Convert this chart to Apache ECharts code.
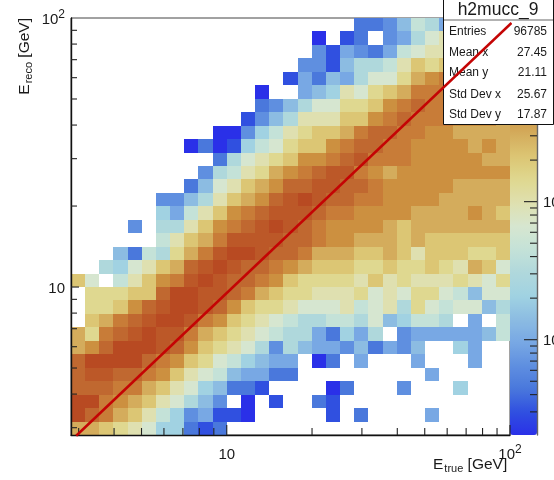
<!DOCTYPE html>
<html>
<head>
<meta charset="utf-8">
<style>html,body{margin:0;padding:0;background:#fff}#c{width:554px;height:480px}</style>
<script src="https://cdn.jsdelivr.net/npm/echarts@6/dist/echarts.min.js"></script>
</head>
<body>
<div id="c"></div>
<script>
// Histogram binning: 31 log-spaced bins per axis
var binLogStart = 0.45;
var binLogWidth = 0.05;

// Estimated bin content for each palette level (level 0 = empty bin)
var levelCounts = [0, 2.04, 3, 4.4, 6.5, 9.6, 14, 21, 30, 45, 66, 97, 143, 210, 310, 455, 670, 985, 1450, 2140];
var paletteColors = ['#2a30e8','#3050e0','#4a78dc','#5f8fe0','#78a8e4','#8cbce2','#a0d2e2','#b0d8dc','#c4e2d8','#d6e6d0',
  '#dfe0b0','#dfd890','#dcc674','#d4ac5c','#cc9040','#c87c38','#c06830','#bc5828','#b84a22'];

// Palette level of every cell, top row first, left column first
var row00 = [0,0,0,0,0,0,0,0,0,0,0,0,0,0,0,0,0,0,0,0,3,3,4,6,9,8,5,6,9,9,10];
var row01 = [0,0,0,0,0,0,0,0,0,0,0,0,0,0,0,0,0,1,0,2,3,0,4,5,8,10,11,10,9,9,10];
var row02 = [0,0,0,0,0,0,0,0,0,0,0,0,0,0,0,0,0,4,2,5,4,3,5,9,10,11,11,12,12,11,11];
var row03 = [0,0,0,0,0,0,0,0,0,0,0,0,0,0,0,0,4,4,2,6,8,8,9,11,13,12,13,13,13,13,13];
var row04 = [0,0,0,0,0,0,0,0,0,0,0,0,0,0,0,2,5,3,6,5,8,10,10,12,14,15,16,15,14,14,14];
var row05 = [0,0,0,0,0,0,0,0,0,0,0,0,0,1,0,0,5,6,7,11,10,12,13,14,16,16,16,15,15,14,14];
var row06 = [0,0,0,0,0,0,0,0,0,0,0,0,0,3,4,6,8,10,10,12,12,13,15,16,17,16,16,15,15,14,14];
var row07 = [0,0,0,0,0,0,0,0,0,0,0,0,2,4,6,8,11,11,11,13,13,15,16,17,16,16,16,15,15,15,14];
var row08 = [0,0,0,0,0,0,0,0,0,0,1,1,4,7,9,11,12,13,13,14,16,17,17,16,16,15,15,14,14,14,14];
var row09 = [0,0,0,0,0,0,0,0,1,3,1,2,7,9,10,12,13,13,15,16,17,17,16,16,15,15,15,15,14,15,14];
var row10 = [0,0,0,0,0,0,0,0,0,0,3,8,10,11,12,13,15,15,16,17,18,16,16,16,15,15,15,15,15,14,14];
var row11 = [0,0,0,0,0,0,0,0,0,4,8,9,11,12,14,15,16,17,18,18,16,15,14,15,15,15,15,15,15,15,15];
var row12 = [0,0,0,0,0,0,0,0,3,6,10,11,13,14,15,17,17,18,18,17,17,16,15,15,15,15,15,14,14,14,14];
var row13 = [0,0,0,0,0,0,4,4,6,8,11,13,14,15,17,18,19,18,17,17,16,16,15,15,15,15,14,14,14,14,14];
var row14 = [0,0,0,0,0,0,7,5,9,11,13,15,16,17,18,18,18,17,16,16,15,15,15,15,14,14,14,14,15,14,13];
var row15 = [0,0,0,0,4,0,8,8,11,13,15,16,17,18,19,18,17,16,15,15,15,15,14,13,14,14,14,14,14,14,14];
var row16 = [0,0,0,0,0,0,9,11,13,14,16,18,18,18,18,17,17,16,15,15,14,14,14,13,14,13,13,13,13,13,13];
var row17 = [0,0,0,6,3,9,8,12,14,16,18,19,19,18,17,17,16,14,14,14,13,13,14,13,11,13,13,13,12,12,13];
var row18 = [0,0,8,7,10,11,13,14,17,18,19,18,17,17,16,15,14,13,13,13,12,12,13,12,12,13,12,11,14,13,10];
var row19 = [13,10,0,9,11,13,15,16,18,19,18,17,17,16,15,13,12,12,12,12,11,13,11,12,11,11,11,12,11,10,12];
var row20 = [0,12,12,12,13,13,17,19,19,18,18,17,16,14,13,12,12,11,11,11,12,10,11,10,12,12,10,9,6,10,10];
var row21 = [0,12,12,13,15,17,18,19,19,18,17,15,13,12,12,11,10,10,10,11,9,10,11,8,12,10,9,10,10,6,8];
var row22 = [0,13,14,16,17,18,19,19,18,16,15,13,12,11,10,9,8,8,9,9,8,10,6,7,9,9,8,0,5,0,9];
var row23 = [14,12,16,17,18,19,18,18,16,14,13,12,11,10,9,8,8,5,3,7,5,8,0,4,5,5,5,5,5,6,9];
var row24 = [14,15,17,19,19,19,18,17,15,13,12,11,10,8,4,8,6,5,5,4,6,3,5,4,6,0,0,7,5,0,0];
var row25 = [17,19,19,19,19,17,16,15,13,12,10,9,7,6,5,5,0,1,3,0,5,0,0,0,5,0,0,0,5,0,0];
var row26 = [17,18,18,17,17,16,15,13,11,10,9,6,5,5,3,3,0,0,0,0,0,0,0,0,0,5,0,0,0,0,0];
var row27 = [17,17,17,16,16,14,13,11,10,7,6,3,3,2,0,0,0,0,1,3,0,0,0,4,0,0,0,7,0,0,0];
var row28 = [19,19,16,15,14,13,11,10,8,6,4,0,1,0,2,0,0,3,2,0,0,0,0,0,0,0,0,0,0,0,0];
var row29 = [19,17,16,14,13,11,9,7,4,5,2,2,1,0,0,0,0,0,2,0,3,0,0,0,0,5,0,0,0,0,0];
var row30 = [14,14,13,12,11,10,7,7,3,2,3,0,0,0,0,0,0,0,0,0,0,0,0,0,0,0,0,0,0,0,0];
var levelRows = [row00,row01,row02,row03,row04,row05,row06,row07,row08,row09,row10,row11,row12,row13,row14,row15,
  row16,row17,row18,row19,row20,row21,row22,row23,row24,row25,row26,row27,row28,row29,row30];

// Axes
var axisMin = Math.pow(10, binLogStart);
var axisMax = 100;
var xTicks = [3,4,5,6,7,8,9,10,20,30,40,50,60,70,80,90,100];
var yTicks = [3,4,5,6,7,8,9,10,20,30,40,50,60,70,80,90];
var zTicks = [3,4,5,6,7,8,9,10,20,30,40,50,60,70,80,90,100,200,300,400,500,600,700,800,900,1000,2000];
var majorTicks = [10,100,1000];
var zMin = levelCounts[1];
var zMax = levelCounts[levelCounts.length-1];

// Red reference line end points
var diagX = [2.94, 101.2];
var diagY = [2.80, 95.8];

// Statistics box
var statTitle = 'h2mucc_9';
var statNames = ['Entries','Mean x','Mean y','Std Dev x','Std Dev y'];
var statValues = ['96785','27.45','21.11','25.67','17.87'];

function edge(i){ return Math.pow(10, binLogStart + binLogWidth*i); }
var cells = [];
levelRows.forEach(function(row, r){
  row.forEach(function(level, c){
    if(level>0){
      var j = levelRows.length-1-r;
      cells.push([edge(c), edge(c+1), edge(j), edge(j+1), Math.log10(levelCounts[level])]);
    }
  });
});

var FONT = '"Liberation Sans", Arial, sans-serif';
var TC = '#1a1a1a';
function powLabel(v){
  if(Math.abs(v-10)<1e-6) return '{m|10}';
  if(Math.abs(v-100)<1e-6) return '{m|10}{s|2}';
  if(Math.abs(v-1000)<1e-6) return '{m|10}{s|3}';
  return '';
}
var labelRich = {
  m:{fontFamily:FONT,fontSize:15,color:TC,lineHeight:18,verticalAlign:'bottom'},
  s:{fontFamily:FONT,fontSize:12,color:TC,lineHeight:18,verticalAlign:'top',padding:[0,0,6,0]}
};
var nameRich = {
  a:{fontFamily:FONT,fontSize:15.5,fill:TC,color:TC,lineHeight:20},
  b:{fontFamily:FONT,fontSize:11,fill:TC,color:TC,lineHeight:20,padding:[7,0,0,1]}
};

function tickSeries(values, axisIdx, kind){
  return {
    type:'custom', xAxisIndex:axisIdx, yAxisIndex:axisIdx, z:6, silent:true, clip:false,
    data: values.map(function(v){return [v];}),
    encode:{x:kind==='x'?0:-1, y:kind==='x'?-1:0},
    renderItem:function(p, api){
      var v = api.value(0), major = majorTicks.indexOf(v)>=0, a, b;
      if(kind==='x'){
        a = api.coord([v, axisMin]);
        b = [a[0], a[1]-(major?10:7)];
      } else if(kind==='y'){
        a = api.coord([axisMin, v]);
        b = [a[0]+(major?8:6), a[1]];
      } else {
        a = api.coord([1, v]);
        b = [a[0]-(major?13:7), a[1]];
      }
      return {type:'line', shape:{x1:a[0],y1:a[1],x2:b[0],y2:b[1]}, style:{stroke:'#222',lineWidth:1.1}};
    }
  };
}

var graphicEls = [
  {type:'rect', z:100, shape:{x:443.5,y:-2,width:110,height:126.5}, style:{fill:'#fff',stroke:'#111',lineWidth:1}},
  {type:'line', z:100, shape:{x1:444,y1:20,x2:553,y2:20}, style:{stroke:'#666',lineWidth:1}},
  {type:'text', z:101, x:498,y:10, style:{text:statTitle,font:'17.5px '+FONT,fill:TC,textAlign:'center',textVerticalAlign:'middle'}},
  {type:'text', z:50, x:433,y:465, style:{text:'{a|E}{b|true}{a| [GeV]}',rich:nameRich,fill:TC,textAlign:'left',textVerticalAlign:'middle'}}
];
var statY = [32,53,73,95,115];
statNames.forEach(function(n,i){
  graphicEls.push({type:'text', z:101, x:449,y:statY[i], style:{text:n,font:'12px '+FONT,fill:TC,textAlign:'left',textVerticalAlign:'middle'}});
  graphicEls.push({type:'text', z:101, x:547,y:statY[i], style:{text:statValues[i],font:'12px '+FONT,fill:TC,textAlign:'right',textVerticalAlign:'middle'}});
});

var chart = echarts.init(document.getElementById('c'), null, {renderer:'canvas'});
chart.setOption({
  animation:false,
  backgroundColor:'#fff',
  grid:[
    {left:71,top:18,width:439,height:417,show:true,borderColor:'#444',borderWidth:1,backgroundColor:'#fff',outerBoundsMode:'none'},
    {left:510,top:18,width:27,height:417,show:false,outerBoundsMode:'none'}
  ],
  xAxis:[
    {type:'log',gridIndex:0,logBase:10,min:axisMin,max:axisMax,z:5,
     axisLine:{show:true,lineStyle:{color:'#111',width:1.4}},axisTick:{show:false},splitLine:{show:false},minorTick:{show:false},minorSplitLine:{show:false},
     axisLabel:{show:true,margin:9,formatter:powLabel,rich:labelRich,showMinLabel:true,showMaxLabel:true,hideOverlap:false}},
    {type:'value',gridIndex:1,min:0,max:1,show:false}
  ],
  yAxis:[
    {type:'log',gridIndex:0,logBase:10,min:axisMin,max:axisMax,z:5,
     name:'{a|E}{b|reco}{a| [GeV]}',nameLocation:'end',nameGap:0,nameRotate:90,
     nameTextStyle:{rich:nameRich,align:'right',verticalAlign:'bottom',padding:[0,0,36,0]},
     axisLine:{show:true,lineStyle:{color:'#111',width:1.4}},axisTick:{show:false},splitLine:{show:false},minorTick:{show:false},minorSplitLine:{show:false},
     axisLabel:{show:true,margin:6,formatter:powLabel,rich:labelRich,showMinLabel:true,showMaxLabel:true,hideOverlap:false}},
    {type:'log',gridIndex:1,logBase:10,min:zMin,max:zMax,position:'right',z:5,
     axisLine:{show:true,onZero:false,lineStyle:{color:'#666',width:1.4}},axisTick:{show:false},splitLine:{show:false},minorTick:{show:false},minorSplitLine:{show:false},
     axisLabel:{show:true,margin:6,formatter:powLabel,rich:labelRich,hideOverlap:false}}
  ],
  visualMap:{
    type:'continuous',seriesIndex:0,dimension:4,
    min:Math.log10(zMin),max:Math.log10(zMax),
    calculable:false,showLabel:false,hoverLink:false,
    orient:'vertical',left:510,top:18,itemWidth:27,itemHeight:417,padding:0,
    inRange:{color:paletteColors},
    text:null
  },
  graphic:{elements:graphicEls},
  series:[
    {type:'custom',name:'h2mucc_9',xAxisIndex:0,yAxisIndex:0,z:2,silent:true,
     data:cells,encode:{x:[0,1],y:[2,3]},
     renderItem:function(p,api){
       var a = api.coord([api.value(0),api.value(3)]);
       var b = api.coord([api.value(1),api.value(2)]);
       var x = Math.round(a[0]), y = Math.round(a[1]);
       return {type:'rect',shape:{x:x,y:y,width:Math.round(b[0])-x,height:Math.round(b[1])-y},style:{fill:api.visual('color')}};
     }},
    tickSeries(xTicks,0,'x'),
    tickSeries(yTicks,0,'y'),
    tickSeries(zTicks,1,'z'),
    {type:'line',xAxisIndex:0,yAxisIndex:0,z:200,clip:false,silent:true,showSymbol:false,symbol:'none',
     data:diagX.map(function(x,i){return [x,diagY[i]];}),
     lineStyle:{color:'#c40404',width:2.5}}
  ]
});
</script>
</body>
</html>
